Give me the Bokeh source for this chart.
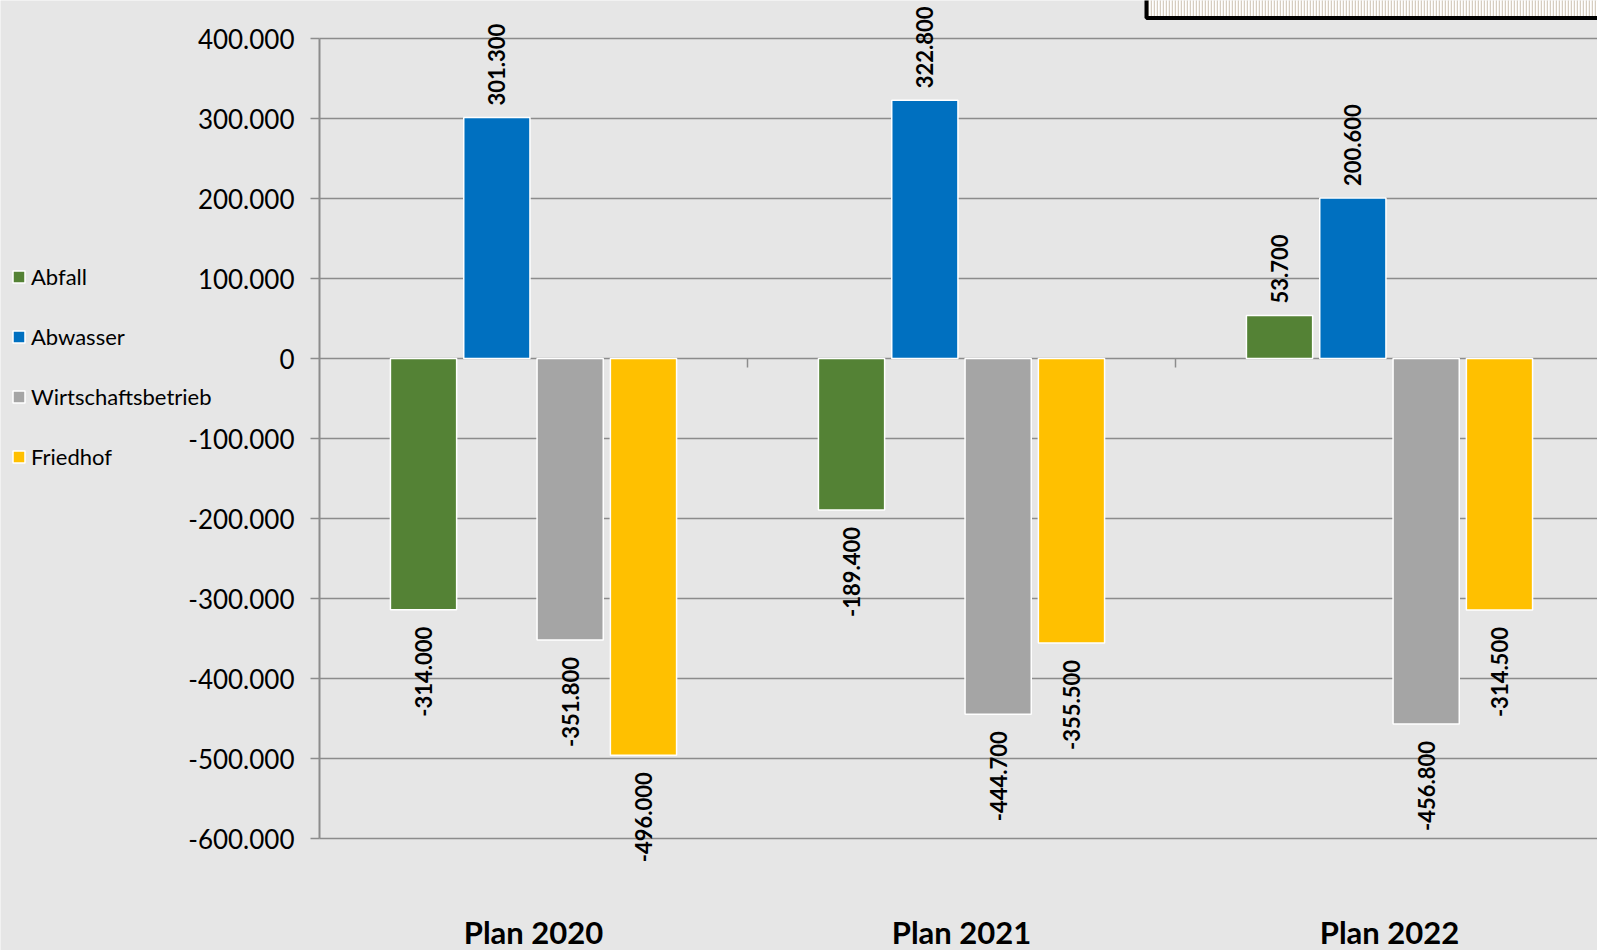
from bokeh.plotting import figure
from bokeh.models import (Range1d, FixedTicker, Legend, LegendItem, BoxAnnotation,
                          ColumnDataSource, LinearAxis)
from bokeh.core.properties import value
from bokeh.embed import file_html
from bokeh.resources import INLINE
import math

# ---- data ----
categories = ["Plan 2020", "Plan 2021", "Plan 2022"]
series_names = ["Abfall", "Abwasser", "Wirtschaftsbetrieb", "Friedhof"]
abfall = [-314000, -189400, 53700]
abwasser = [301300, 322800, 200600]
wirtschaftsbetrieb = [-351800, -444700, -456800]
friedhof = [-496000, -355500, -314500]
series_values = [abfall, abwasser, wirtschaftsbetrieb, friedhof]
series_colors = ["#548235", "#0070c0", "#a5a5a5", "#ffc000"]
y_ticks = [-600000, -500000, -400000, -300000, -200000, -100000, 0, 100000, 200000, 300000, 400000]
y_tick_labels = ["-600.000", "-500.000", "-400.000", "-300.000", "-200.000", "-100.000",
                 "0", "100.000", "200.000", "300.000", "400.000"]

FONT = "Lato"
BG = "#e6e6e6"
GRID = "#8c8c8c"
W, H = 1597, 950
AXIS_X = 319       # screen x of value axis
CAT_PX = 428       # pixels per category
TOP_PX = 38        # screen y of top tick
PX = 1250.0        # data units per pixel on y

cat_centers = [i + 0.5 for i in range(len(categories))]
pitch = 0.1713
bar_w = 0.1547

x_start = -AXIS_X / CAT_PX
x_end = (W - AXIS_X) / CAT_PX
y_top = y_ticks[-1] + TOP_PX * PX
y_bottom = y_ticks[-1] - (H - TOP_PX) * PX

p = figure(width=W, height=H, output_backend="svg", toolbar_location=None,
           x_range=Range1d(x_start, x_end), y_range=Range1d(y_bottom, y_top),
           x_axis_location=None, y_axis_location=None,
           min_border_left=0, min_border_right=0, min_border_top=0, min_border_bottom=0,
           background_fill_color=BG, border_fill_color=BG, outline_line_color=None)
p.xgrid.grid_line_color = None
p.ygrid.grid_line_color = None

# horizontal gridlines (from axis to right edge)
p.segment(x0=[0] * len(y_ticks), y0=y_ticks, x1=[x_end + 1] * len(y_ticks), y1=y_ticks,
          line_color=GRID, line_width=1.5)

# category tick marks on the zero line
bounds_x = [float(i) for i in range(1, len(categories))]
p.segment(x0=bounds_x, y0=[0] * len(bounds_x), x1=bounds_x, y1=[-9 * PX] * len(bounds_x),
          line_color=GRID, line_width=1.5)

# value axis, fixed at x = 0
yax = LinearAxis(fixed_location=0, ticker=FixedTicker(ticks=y_ticks),
                 major_label_overrides={t: l for t, l in zip(y_ticks, y_tick_labels)},
                 bounds=(y_ticks[0], y_ticks[-1]),
                 axis_line_color=GRID, axis_line_width=2,
                 major_tick_line_color=GRID, major_tick_line_width=1.5,
                 major_tick_out=9, major_tick_in=0, minor_tick_line_color=None,
                 major_label_standoff=16, major_label_text_font=FONT,
                 major_label_text_font_size="26px", major_label_text_color="#000000")
p.add_layout(yax, "left")

# category axis (labels only), fixed near the bottom
xcat = LinearAxis(fixed_location=y_ticks[-1] - (880 - TOP_PX) * PX,
                  ticker=FixedTicker(ticks=cat_centers),
                  major_label_overrides={c: n for c, n in zip(cat_centers, categories)},
                  axis_line_color=None, major_tick_line_color=None, minor_tick_line_color=None,
                  major_label_standoff=26, major_label_text_font=FONT,
                  major_label_text_font_style="bold", major_label_text_font_size="31px",
                  major_label_text_color="#000000")
p.add_layout(xcat, "below")

# bars + labels
fmt = lambda v: f"{v:,}".replace(",", ".")
items = []
n = len(series_names)
for i, (name, vals, col) in enumerate(zip(series_names, series_values, series_colors)):
    off = (i - (n - 1) / 2) * pitch
    xs = [c + off for c in cat_centers]
    src = ColumnDataSource(dict(x=xs, top=vals))
    r = p.vbar(x="x", top="top", bottom=0, width=bar_w, source=src,
               fill_color=col, line_color="white", line_width=1.5)
    items.append(LegendItem(label=name, renderers=[r]))
    pos_x = [x for x, v in zip(xs, vals) if v >= 0]
    pos_v = [v for v in vals if v >= 0]
    neg_x = [x for x, v in zip(xs, vals) if v < 0]
    neg_v = [v for v in vals if v < 0]
    if pos_v:
        p.text(x=pos_x, y=[v + 12 * PX for v in pos_v], text=[fmt(v) for v in pos_v],
               angle=math.pi / 2, text_align="left", text_baseline="middle",
               text_font=value(FONT), text_font_style="bold", text_font_size="22px",
               text_color="#000000")
    if neg_v:
        p.text(x=neg_x, y=[v - 17 * PX for v in neg_v], text=[fmt(v) for v in neg_v],
               angle=math.pi / 2, text_align="right", text_baseline="middle",
               text_font=value(FONT), text_font_style="bold", text_font_size="22px",
               text_color="#000000")

# partial title box at top right (decoration)
box = BoxAnnotation(left=(1146 - AXIS_X) / CAT_PX, right=x_end + 1,
                    bottom=y_ticks[-1] + 20.5 * PX, top=y_top + 50 * PX,
                    fill_color="white", fill_alpha=1.0,
                    hatch_pattern="vertical_line", hatch_color="#d6cdc0", hatch_alpha=1.0,
                    hatch_scale=3, hatch_weight=1.5,
                    line_color="black", line_alpha=1.0, line_width=4)
p.add_layout(box)

legend = Legend(items=items, location=(11, 480), orientation="vertical",
                glyph_width=15, glyph_height=15, label_height=27, spacing=33,
                label_standoff=5, padding=0, margin=0,
                label_text_font=FONT, label_text_font_size="22px", label_text_color="#000000",
                background_fill_alpha=0, border_line_alpha=0)
p.add_layout(legend, "center")

open("out.html", "w").write(file_html(p, INLINE))
